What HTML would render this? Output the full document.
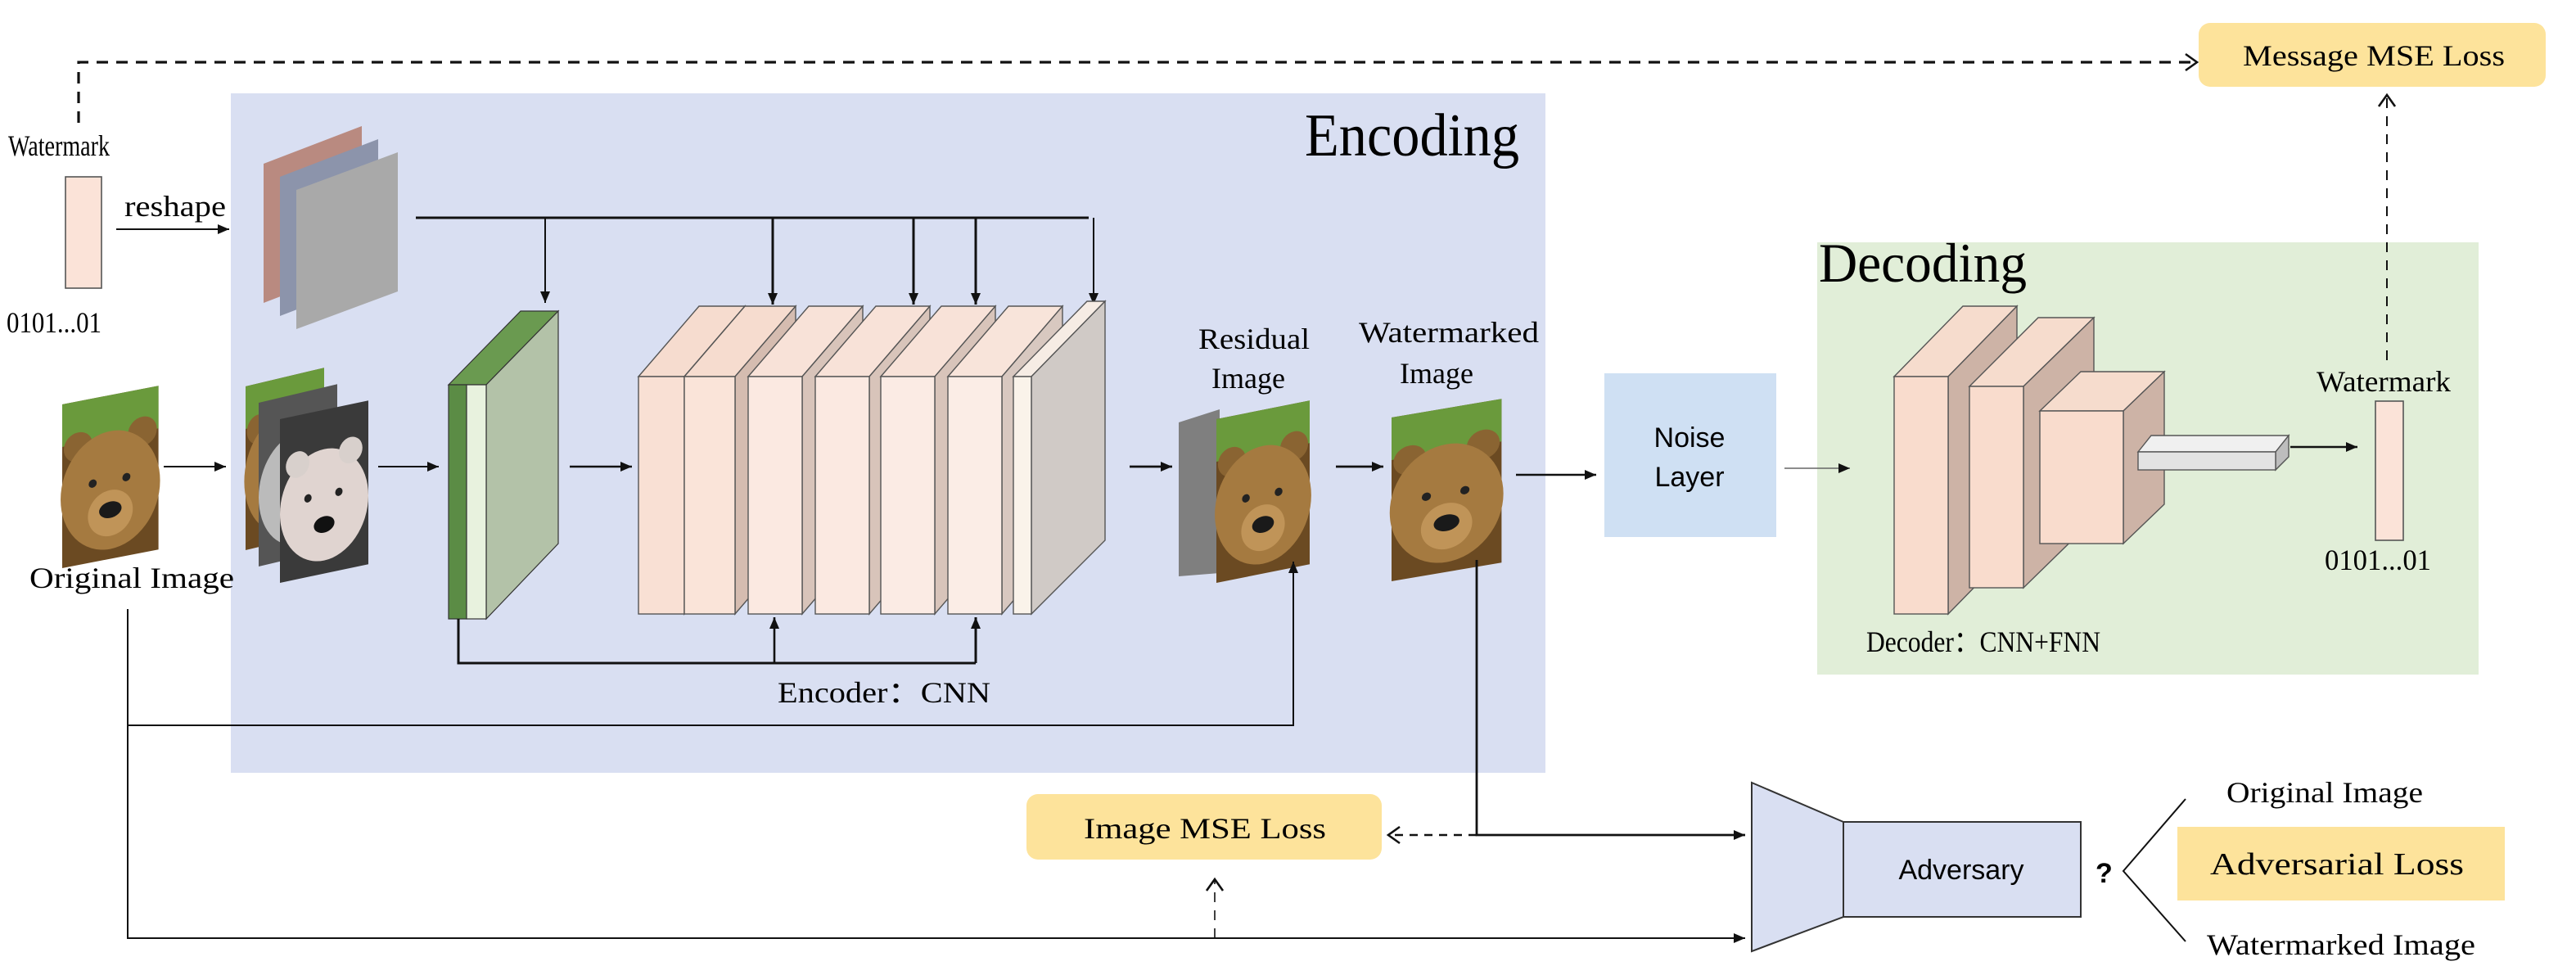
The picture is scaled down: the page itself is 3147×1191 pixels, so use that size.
<!DOCTYPE html>
<html><head><meta charset="utf-8"><style>html,body{margin:0;padding:0;background:#fff}svg{display:block}</style></head>
<body>
<svg width="3147" height="1191" viewBox="0 0 1573.5 595.5" xmlns="http://www.w3.org/2000/svg" font-family="'Liberation Serif',serif">
<defs>
<marker id="a" markerWidth="8" markerHeight="8" refX="7" refY="4" orient="auto" markerUnits="userSpaceOnUse"><path d="M0,1 L7,4 L0,7 z" fill="#111"/></marker>
<marker id="o" markerWidth="10" markerHeight="12" refX="8" refY="6" orient="auto" markerUnits="userSpaceOnUse"><path d="M1,1 L8,6 L1,11" fill="none" stroke="#111" stroke-width="1.3"/></marker>
<g id="bear">
<rect x="0" y="0" width="60" height="100" fill="#6b4a22"/>
<rect x="0" y="0" width="60" height="26" fill="#6a9a3c"/>
<circle cx="10" cy="28" r="9" fill="#8a6432"/><circle cx="50" cy="26" r="9" fill="#8a6432"/>
<ellipse cx="30" cy="58" rx="31" ry="36" fill="#a57a40"/>
<ellipse cx="30" cy="72" rx="14" ry="14" fill="#c09458"/>
<circle cx="19" cy="52" r="2.5" fill="#222"/><circle cx="40" cy="52" r="2.5" fill="#222"/>
<ellipse cx="30" cy="70" rx="7" ry="5" fill="#1a1a1a"/>
</g>
<g id="bearg">
<rect x="0" y="0" width="60" height="100" fill="#555"/>
<ellipse cx="30" cy="58" rx="30" ry="34" fill="#bbb"/>
<circle cx="19" cy="52" r="2.5" fill="#222"/><circle cx="40" cy="52" r="2.5" fill="#222"/>
<ellipse cx="30" cy="70" rx="7" ry="5" fill="#111"/>
</g>
<g id="bearw">
<rect x="0" y="0" width="60" height="100" fill="#3a3a3a"/>
<ellipse cx="30" cy="58" rx="30" ry="34" fill="#e0d4d0"/>
<circle cx="12" cy="30" r="8" fill="#d8d0cc"/><circle cx="48" cy="28" r="8" fill="#d8d0cc"/>
<circle cx="19" cy="52" r="2.5" fill="#222"/><circle cx="40" cy="52" r="2.5" fill="#222"/>
<ellipse cx="30" cy="70" rx="7" ry="5" fill="#111"/>
</g>
</defs>

<rect x="141" y="57" width="803" height="415" fill="#d9dff2"/>
<rect x="1110" y="148" width="404" height="264" fill="#e1eed8"/>
<text x="797" y="95" font-size="37" textLength="131" lengthAdjust="spacingAndGlyphs">Encoding</text>
<text x="1111" y="172" font-size="34" textLength="127" lengthAdjust="spacingAndGlyphs">Decoding</text>

<path d="M48,75 V38 H1342" fill="none" stroke="#111" stroke-width="1.6" stroke-dasharray="7,5" marker-end="url(#o)"/>
<rect x="1343" y="14" width="212" height="39" rx="7" fill="#fde39b"/>
<text x="1370" y="40" font-size="18" textLength="160" lengthAdjust="spacingAndGlyphs">Message MSE Loss</text>

<text x="5" y="95" font-size="18" textLength="62" lengthAdjust="spacingAndGlyphs">Watermark</text>
<rect x="40" y="108" width="22" height="68" fill="#fbe3d8" stroke="#555" stroke-width="0.8"/>
<text x="4" y="203" font-size="18" textLength="58" lengthAdjust="spacingAndGlyphs">0101...01</text>
<text x="76" y="132" font-size="18" textLength="62" lengthAdjust="spacingAndGlyphs">reshape</text>
<line x1="71" y1="140" x2="140" y2="140" stroke="#111" stroke-width="1" marker-end="url(#a)"/>

<polygon points="161,100 221,77 221,162 161,185" fill="#b98a80"/>
<polygon points="171,108 231,85 231,170 171,193" fill="#8c94ab"/>
<polygon points="181,116 243,93 243,178 181,201" fill="#a9a9a9"/>

<path d="M254,133 H665" fill="none" stroke="#111" stroke-width="1.5"/>
<line x1="333" y1="133" x2="333" y2="185" stroke="#111" stroke-width="1" marker-end="url(#a)"/>
<line x1="472" y1="133" x2="472" y2="186" stroke="#111" stroke-width="1.5" marker-end="url(#a)"/>
<line x1="558" y1="133" x2="558" y2="186" stroke="#111" stroke-width="1.5" marker-end="url(#a)"/>
<line x1="596" y1="133" x2="596" y2="186" stroke="#111" stroke-width="1.5" marker-end="url(#a)"/>
<line x1="668" y1="133" x2="668" y2="186" stroke="#111" stroke-width="1" marker-end="url(#a)"/>

<use href="#bear" transform="matrix(0.98,-0.19,0,1,38,247)"/>
<text x="18" y="359" font-size="18" textLength="125" lengthAdjust="spacingAndGlyphs">Original Image</text>
<line x1="100" y1="285" x2="138" y2="285" stroke="#111" stroke-width="1" marker-end="url(#a)"/>

<use href="#bear" transform="matrix(0.8,-0.19,0,1,150,236)"/>
<use href="#bearg" transform="matrix(0.8,-0.19,0,1,158,246)"/>
<use href="#bearw" transform="matrix(0.9,-0.19,0,1,171,256)"/>
<line x1="231" y1="285" x2="268" y2="285" stroke="#111" stroke-width="1" marker-end="url(#a)"/>

<polygon points="274,235 318,190 341,190 297,235" fill="#6a9a50" stroke="#333" stroke-width="0.6"/>
<polygon points="297,235 341,190 341,332 297,378" fill="#b3c2a8" stroke="#333" stroke-width="0.6"/>
<rect x="274" y="235" width="11" height="143" fill="#5b8c45" stroke="#333" stroke-width="0.6"/>
<rect x="285" y="235" width="12" height="143" fill="#e8f2de" stroke="#333" stroke-width="0.6"/>
<line x1="348" y1="285" x2="386" y2="285" stroke="#111" stroke-width="1.2" marker-end="url(#a)"/>

<g stroke="#555" stroke-width="0.7">
<polygon points="390,230 427,187 455,187 418,230" fill="#f6dccf"/>
<polygon points="418,230 455,187 455,332 418,375" fill="#d5bcb0"/>
<rect x="390" y="230" width="28" height="145" fill="#f9e0d4"/>
<polygon points="418,230 455,187 486,187 449,230" fill="#f6dccf"/>
<polygon points="449,230 486,187 486,332 449,375" fill="#d5bcb0"/>
<rect x="418" y="230" width="31" height="145" fill="#fae4d9"/>
<polygon points="457,230 494,187 527,187 490,230" fill="#f8e2d8"/>
<polygon points="490,230 527,187 527,332 490,375" fill="#d8c4ba"/>
<rect x="457" y="230" width="33" height="145" fill="#fbe9e1"/>
<polygon points="498,230 535,187 568,187 531,230" fill="#f8e2d8"/>
<polygon points="531,230 568,187 568,332 531,375" fill="#d8c4ba"/>
<rect x="498" y="230" width="33" height="145" fill="#fbe9e1"/>
<polygon points="538,230 575,187 608,187 571,230" fill="#f8e2d8"/>
<polygon points="571,230 608,187 608,332 571,375" fill="#d8c4ba"/>
<rect x="538" y="230" width="33" height="145" fill="#fbebe4"/>
<polygon points="579,230 616,187 649,187 612,230" fill="#f8e4da"/>
<polygon points="612,230 649,187 649,332 612,375" fill="#d8c8c0"/>
<rect x="579" y="230" width="33" height="145" fill="#fbede6"/>
<polygon points="619,230 664,184 675,184 630,230" fill="#f6ece4"/>
<polygon points="630,230 675,184 675,330 630,375" fill="#d0cac6"/>
<rect x="619" y="230" width="11" height="145" fill="#faf3ea"/>
</g>

<path d="M280,378 V405 H596" fill="none" stroke="#111" stroke-width="1.5"/>
<line x1="473" y1="405" x2="473" y2="377" stroke="#111" stroke-width="1.3" marker-end="url(#a)"/>
<line x1="596" y1="405" x2="596" y2="377" stroke="#111" stroke-width="1.5" marker-end="url(#a)"/>
<text x="475" y="429" font-size="18" textLength="130" lengthAdjust="spacingAndGlyphs">Encoder：CNN</text>

<line x1="690" y1="285" x2="716" y2="285" stroke="#111" stroke-width="1.4" marker-end="url(#a)"/>

<text x="732" y="213" font-size="18" textLength="68" lengthAdjust="spacingAndGlyphs">Residual</text>
<text x="740" y="237" font-size="18" textLength="45" lengthAdjust="spacingAndGlyphs">Image</text>
<polygon points="720,258 745,250 745,350 720,352" fill="#7f7f7f"/>
<use href="#bear" transform="matrix(0.95,-0.19,0,1,743,256)"/>
<line x1="816" y1="285" x2="845" y2="285" stroke="#111" stroke-width="1.4" marker-end="url(#a)"/>
<text x="830" y="209" font-size="18" textLength="110" lengthAdjust="spacingAndGlyphs">Watermarked</text>
<text x="855" y="234" font-size="18" textLength="45" lengthAdjust="spacingAndGlyphs">Image</text>
<use href="#bear" transform="matrix(1.12,-0.19,0,1,850,255)"/>

<path d="M78,372 V443 H790 V343" fill="none" stroke="#111" stroke-width="1" marker-end="url(#a)"/>
<path d="M78,443 V573 H1066" fill="none" stroke="#111" stroke-width="1" marker-end="url(#a)"/>
<path d="M902,342 V510 H1066" fill="none" stroke="#111" stroke-width="1.4" marker-end="url(#a)"/>
<path d="M902,510 H848" fill="none" stroke="#111" stroke-width="1.2" stroke-dasharray="5,4" marker-end="url(#o)"/>
<path d="M742,573 V537" fill="none" stroke="#111" stroke-width="0.8" stroke-dasharray="6,5" marker-end="url(#o)"/>
<rect x="627" y="485" width="217" height="40" rx="7" fill="#fde39b"/>
<text x="662" y="512" font-size="18" textLength="148" lengthAdjust="spacingAndGlyphs">Image MSE  Loss</text>

<line x1="926" y1="290" x2="975" y2="290" stroke="#111" stroke-width="1.2" marker-end="url(#a)"/>
<rect x="980" y="228" width="105" height="100" fill="#cfe0f3"/>
<text x="1032" y="273" font-size="17" text-anchor="middle" font-family="'Liberation Sans',sans-serif">Noise</text>
<text x="1032" y="297" font-size="17" text-anchor="middle" font-family="'Liberation Sans',sans-serif">Layer</text>
<line x1="1090" y1="286" x2="1130" y2="286" stroke="#666" stroke-width="0.7" marker-end="url(#a)"/>

<g stroke="#555" stroke-width="0.7">
<polygon points="1157,230 1199,187 1232,187 1190,230" fill="#f6dccd"/>
<polygon points="1190,230 1232,187 1232,332 1190,375" fill="#cdb3a6"/>
<rect x="1157" y="230" width="33" height="145" fill="#f9dccd"/>
<polygon points="1203,236 1245,194 1279,194 1236,236" fill="#f6dccd"/>
<polygon points="1236,236 1279,194 1279,317 1236,359" fill="#cdb3a6"/>
<rect x="1203" y="236" width="33" height="123" fill="#f9dccd"/>
<polygon points="1246,251 1271,227 1322,227 1297,251" fill="#f6dccd"/>
<polygon points="1297,251 1322,227 1322,308 1297,332" fill="#cdb3a6"/>
<rect x="1246" y="251" width="51" height="81" fill="#f9dccd"/>
<polygon points="1306,276 1314,266 1398,266 1390,276" fill="#f0f0f0"/>
<polygon points="1390,276 1398,266 1398,279 1390,287" fill="#bdbdbd"/>
<rect x="1306" y="276" width="84" height="11" fill="#e3e3e3"/>
</g>
<line x1="1399" y1="273" x2="1440" y2="273" stroke="#111" stroke-width="1.2" marker-end="url(#a)"/>
<text x="1415" y="239" font-size="18" textLength="82" lengthAdjust="spacingAndGlyphs">Watermark</text>
<rect x="1451" y="245" width="17" height="85" fill="#fbe3d8" stroke="#555" stroke-width="0.8"/>
<text x="1420" y="348" font-size="18" textLength="65" lengthAdjust="spacingAndGlyphs">0101...01</text>
<text x="1140" y="398" font-size="18" textLength="143" lengthAdjust="spacingAndGlyphs">Decoder：CNN+FNN</text>
<path d="M1458,220 V58" fill="none" stroke="#111" stroke-width="1" stroke-dasharray="6,5" marker-end="url(#o)"/>

<polygon points="1070,478 1126,502 1126,560 1070,581" fill="#d9dff2" stroke="#333" stroke-width="1"/>
<rect x="1126" y="502" width="145" height="58" fill="#d9dff2" stroke="#333" stroke-width="1"/>
<text x="1198" y="537" font-size="17" text-anchor="middle" font-family="'Liberation Sans',sans-serif">Adversary</text>
<text x="1280" y="539" font-size="17" font-weight="bold" font-family="'Liberation Sans',sans-serif">?</text>
<path d="M1335,488 L1297,532 L1335,575" fill="none" stroke="#111" stroke-width="1"/>
<text x="1360" y="490" font-size="18" textLength="120" lengthAdjust="spacingAndGlyphs">Original Image</text>
<rect x="1330" y="505" width="200" height="45" fill="#fde39b"/>
<text x="1350" y="534" font-size="19" textLength="155" lengthAdjust="spacingAndGlyphs">Adversarial  Loss</text>
<text x="1348" y="583" font-size="18" textLength="164" lengthAdjust="spacingAndGlyphs">Watermarked Image</text>
</svg>
</body></html>
